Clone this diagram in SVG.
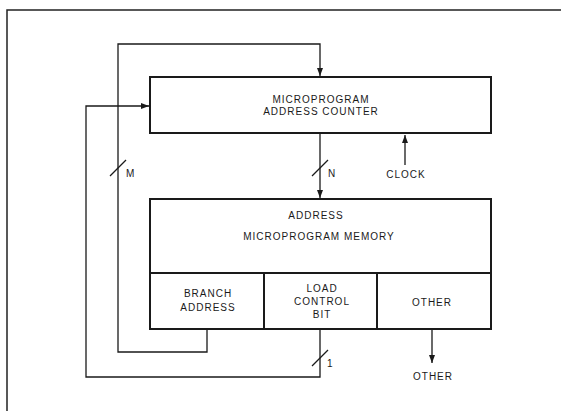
<svg xmlns="http://www.w3.org/2000/svg" width="561" height="411" viewBox="0 0 561 411">
<defs>
<style>
.box{fill:none;stroke:#1a1a1a;stroke-width:2}
.ln{fill:none;stroke:#1a1a1a;stroke-width:1.3}
.frame{fill:none;stroke:#222;stroke-width:1.5}
text{font-family:"Liberation Sans",Arial,sans-serif;font-size:10px;fill:#1a1a1a;letter-spacing:1px}
.c{text-anchor:middle}
</style>
<marker id="ah" markerWidth="8" markerHeight="6" refX="8" refY="3" orient="auto" markerUnits="userSpaceOnUse">
<path d="M0,0 L8,3 L0,6 z" fill="#1a1a1a"/>
</marker>
</defs>
<rect width="561" height="411" fill="#fff"/>
<path class="frame" d="M7,411 V10 H561"/>
<g id="connectors">
<path class="ln" d="M207,330 V352 H118 V44 H320 V76" marker-end="url(#ah)"/>
<path class="ln" d="M320,330 V377 H86 V106 H149" marker-end="url(#ah)"/>
<path class="ln" d="M320,134 V198" marker-end="url(#ah)"/>
<path class="ln" d="M405,165 V135" marker-end="url(#ah)"/>
<path class="ln" d="M432,330 V363" marker-end="url(#ah)"/>
<path class="ln" d="M110,176 L126,160"/>
<path class="ln" d="M312,176 L328,160"/>
<path class="ln" d="M312,366 L328,350"/>
<text x="126" y="177">M</text>
<text x="328" y="177">N</text>
<text x="327" y="367">1</text>
<text class="c" x="406" y="178">CLOCK</text>
<text class="c" x="433" y="380">OTHER</text>
</g>
<g id="address-counter">
<rect class="box" x="150" y="77" width="341" height="56"/>
<text class="c" x="321" y="103">MICROPROGRAM</text>
<text class="c" x="321" y="115">ADDRESS COUNTER</text>
</g>
<g id="memory">
<rect class="box" x="150" y="199" width="341" height="130"/>
<path class="box" d="M150,273 H491 M264,273 V329 M377,273 V329"/>
<text class="c" x="316" y="219">ADDRESS</text>
<text class="c" x="319" y="240">MICROPROGRAM MEMORY</text>
</g>
<g id="branch-address">
<text class="c" x="208" y="297">BRANCH</text>
<text class="c" x="208" y="311">ADDRESS</text>
</g>
<g id="load-control-bit">
<text class="c" x="322" y="292">LOAD</text>
<text class="c" x="322" y="305">CONTROL</text>
<text class="c" x="322" y="318">BIT</text>
</g>
<g id="other">
<text class="c" x="432" y="306">OTHER</text>
</g>
</svg>
